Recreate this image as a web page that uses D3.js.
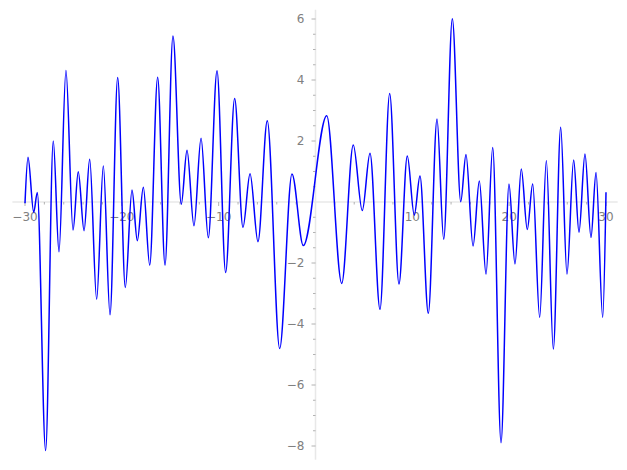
<!DOCTYPE html>
<html>
<head>
<meta charset="utf-8">
<script src="https://cdn.jsdelivr.net/npm/d3@7"></script>
<style>
  body { margin: 0; background: #fff; }
  text { font-family: 'DejaVu Sans', sans-serif; font-size: 12px; fill: #808080; }
</style>
</head>
<body>
<svg id="chart" width="627" height="470"></svg>
<script>
// curve samples (turning points mostly)
const xValues = [
  -30, -29.69, -29.1, -28.73, -27.87, -27.08, -26.49, -25.77, -25.04, -24.5,
  -23.9, -23.32, -22.6, -21.91, -21.22, -20.43, -19.64, -18.95, -18.4, -17.78,
  -17.12, -16.3, -15.54, -14.72, -13.86, -13.27, -12.55, -11.82, -11.07, -10.17,
  -9.28, -8.35, -7.49, -6.76, -5.94, -4.98, -3.7, -2.43, -1.26, 1.16,
  2.71, 3.9, 4.83, 5.63, 6.66, 7.66, 8.62, 9.48, 10.2, 10.79,
  11.65, 12.55, 13.24, 14.13, 15.0, 15.54, 16.27, 16.92, 17.61, 18.3,
  19.16, 19.98, 20.6, 21.25, 21.87, 22.43, 23.15, 23.84, 24.56, 25.32,
  25.97, 26.66, 27.21, 27.83, 28.45, 28.97, 29.66, 30
];
const yValues = [
  -0.04, 1.47, -0.34, 0.31, -8.15, 2.0, -1.63, 4.31, -0.92, 0.99,
  -0.94, 1.4, -3.19, 1.18, -3.7, 4.08, -2.8, 0.39, -1.27, 0.48,
  -2.07, 4.09, -2.07, 5.44, -0.07, 1.7, -0.78, 2.09, -1.17, 4.3,
  -2.31, 3.39, -0.83, 0.93, -1.3, 2.66, -4.8, 0.92, -1.43, 2.83,
  -2.67, 1.87, -0.28, 1.6, -3.52, 3.56, -2.69, 1.51, -0.43, 0.85,
  -3.65, 2.72, -1.22, 6.01, 0.01, 1.56, -1.44, 0.69, -2.36, 1.79,
  -7.89, 0.59, -2.03, 1.08, -0.9, 0.59, -3.78, 1.35, -4.82, 2.45,
  -2.36, 1.38, -0.99, 1.57, -1.16, 0.97, -3.78, 0.32
];
const xMajorTicks = [-30, -20, -10, 10, 20, 30];
const yMajorTicks = [-8, -6, -4, -2, 2, 4, 6];

const svg = d3.select('#chart');
const x = d3.scaleLinear().domain([-30, 30]).range([25, 606]);
const y = d3.scaleLinear().domain([-8, 6]).range([446, 19]);
const axisColor = '#e8e8e8';
const tickColor = '#a0a0a0';

// axis lines through the origin
svg.append('line')
  .attr('x1', x(-31.3)).attr('x2', x(31.2))
  .attr('y1', y(0)).attr('y2', y(0))
  .attr('stroke', axisColor).attr('stroke-width', 1.5);
svg.append('line')
  .attr('x1', x(0)).attr('x2', x(0))
  .attr('y1', y(6.3)).attr('y2', y(-8.45))
  .attr('stroke', axisColor).attr('stroke-width', 1.5);

// x ticks
const xMinor = d3.range(-30, 31, 2).filter(v => v !== 0 && v % 10 !== 0);
svg.append('g').selectAll('line').data(xMinor).join('line')
  .attr('x1', d => x(d)).attr('x2', d => x(d))
  .attr('y1', y(0)).attr('y2', y(0) + 2.5)
  .attr('stroke', tickColor).attr('stroke-width', 0.8);
svg.append('g').selectAll('line').data(xMajorTicks).join('line')
  .attr('x1', d => x(d)).attr('x2', d => x(d))
  .attr('y1', y(0)).attr('y2', y(0) + 4)
  .attr('stroke', tickColor).attr('stroke-width', 0.8);
svg.append('g').selectAll('text').data(xMajorTicks).join('text')
  .attr('x', d => x(d)).attr('y', y(0) + 19)
  .attr('text-anchor', 'middle')
  .text(d => d3.format('d')(d));

// y ticks
const yMinor = d3.range(-8, 6.01, 0.5).filter(v => v !== 0 && v % 2 !== 0);
svg.append('g').selectAll('line').data(yMinor).join('line')
  .attr('x1', x(0) - 2.5).attr('x2', x(0))
  .attr('y1', d => y(d)).attr('y2', d => y(d))
  .attr('stroke', tickColor).attr('stroke-width', 0.8);
svg.append('g').selectAll('line').data(yMajorTicks).join('line')
  .attr('x1', x(0) - 4).attr('x2', x(0))
  .attr('y1', d => y(d)).attr('y2', d => y(d))
  .attr('stroke', tickColor).attr('stroke-width', 0.8);
svg.append('g').selectAll('text').data(yMajorTicks).join('text')
  .attr('x', x(0) - 11).attr('y', d => y(d))
  .attr('dy', '0.36em')
  .attr('text-anchor', 'end')
  .text(d => d3.format('d')(d));

// the curve
const points = xValues.map((v, i) => [v, yValues[i]]);
const line = d3.line()
  .x(d => x(d[0]))
  .y(d => y(d[1]))
  .curve(d3.curveMonotoneX);
svg.append('path')
  .datum(points)
  .attr('d', line)
  .attr('fill', 'none')
  .attr('stroke', '#0000ff')
  .attr('stroke-width', 1.5);
</script>
</body>
</html>
